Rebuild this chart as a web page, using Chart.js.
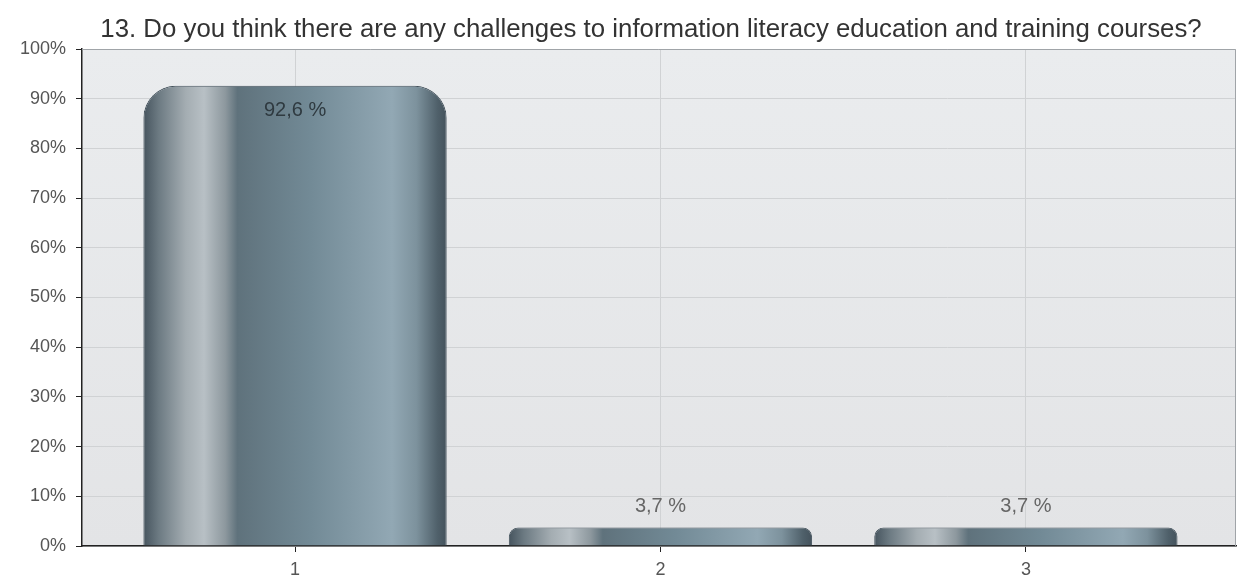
<!DOCTYPE html>
<html>
<head>
<meta charset="utf-8">
<script src="https://cdn.jsdelivr.net/npm/chart.js@4/dist/chart.umd.min.js"></script>
<style>
html,body{margin:0;padding:0;background:#fff;}
#wrap{width:1240px;height:580px;position:relative;}
</style>
</head>
<body>
<div id="wrap"><canvas id="c" width="1240" height="580"></canvas></div>
<script>
const titleText = "13. Do you think there are any challenges to information literacy education and training courses?";
const categories = ["1", "2", "3"];
const values = [92.6, 3.7, 3.7];
const yTicks = [0, 10, 20, 30, 40, 50, 60, 70, 80, 90, 100];

const points = categories.map((c, i) => ({ x: i + 1, y: values[i] }));
const BAR_PCT = 0.83;
const FONT = '"Liberation Sans", Arial, sans-serif';

function barGradient(ctx) {
  const chart = ctx.chart;
  const xs = chart.scales && chart.scales.x;
  if (!xs || ctx.dataIndex === undefined) return '#6f8590';
  const cx = xs.getPixelForValue(ctx.dataIndex + 1);
  const w = (xs.getPixelForValue(2) - xs.getPixelForValue(1)) * BAR_PCT;
  const x0 = cx - w / 2, x1 = cx + w / 2;
  if (!isFinite(x0) || !isFinite(x1)) return '#6f8590';
  const g = chart.ctx.createLinearGradient(x0, 0, x1, 0);
  g.addColorStop(0.00, '#46545e');
  g.addColorStop(0.05, '#6c7a82');
  g.addColorStop(0.14, '#a4adb2');
  g.addColorStop(0.20, '#b8c0c5');
  g.addColorStop(0.27, '#8d989e');
  g.addColorStop(0.31, '#5f727c');
  g.addColorStop(0.55, '#728a96');
  g.addColorStop(0.82, '#92a8b4');
  g.addColorStop(0.90, '#7d929d');
  g.addColorStop(0.97, '#4f606a');
  g.addColorStop(1.00, '#44525c');
  return g;
}

const bgPlugin = {
  id: 'plotBg',
  beforeDraw(chart) {
    const { ctx, chartArea: a } = chart;
    const g = ctx.createLinearGradient(0, a.top, 0, a.bottom);
    g.addColorStop(0, '#eaecee');
    g.addColorStop(1, '#e3e4e6');
    ctx.save();
    ctx.fillStyle = g;
    ctx.fillRect(a.left, a.top, a.right - a.left, a.bottom - a.top);
    ctx.restore();
  },
  afterDraw(chart) {
    const { ctx, chartArea: a } = chart;
    ctx.save();
    ctx.strokeStyle = '#a0a4a8';
    ctx.lineWidth = 1;
    ctx.beginPath();
    ctx.moveTo(a.left, a.top + 0.5);
    ctx.lineTo(a.right - 0.5, a.top + 0.5);
    ctx.lineTo(a.right - 0.5, a.bottom);
    ctx.stroke();
    // title
    ctx.fillStyle = '#333';
    ctx.font = '25.8px ' + FONT;
    ctx.textAlign = 'center';
    ctx.textBaseline = 'alphabetic';
    ctx.fillText(titleText, 651, 37);
    ctx.restore();
  }
};

const labelPlugin = {
  id: 'valLabels',
  afterDatasetsDraw(chart) {
    const { ctx } = chart;
    const meta = chart.getDatasetMeta(0);
    ctx.save();
    ctx.font = '20px ' + FONT;
    ctx.textAlign = 'center';
    ctx.textBaseline = 'middle';
    meta.data.forEach((el, i) => {
      const v = values[i];
      const txt = v.toFixed(1).replace('.', ',') + ' %';
      if (v > 50) {
        ctx.fillStyle = '#2f3a40';
        ctx.fillText(txt, el.x, el.y + 25);
      } else {
        ctx.fillStyle = '#666';
        ctx.fillText(txt, el.x, el.y - 21);
      }
    });
    ctx.restore();
  }
};

new Chart(document.getElementById('c'), {
  type: 'bar',
  data: {
    datasets: [{
      data: points,
      backgroundColor: barGradient,
      borderColor: '#44525c',
      borderWidth: { top: 1, left: 1, right: 1, bottom: 0 },
      borderSkipped: 'bottom',
      borderRadius: { topLeft: 32, topRight: 32, bottomLeft: 0, bottomRight: 0 },
      barPercentage: BAR_PCT,
      categoryPercentage: 1.0
    }]
  },
  options: {
    responsive: false,
    animation: false,
    devicePixelRatio: 1,
    layout: { padding: { left: 0, right: 4, top: 49, bottom: 0 } },
    plugins: {
      legend: { display: false },
      tooltip: { enabled: false },
      title: { display: false }
    },
    scales: {
      x: {
        type: 'linear',
        offset: false,
        min: 0.417,
        max: 3.575,
        afterBuildTicks(s) { s.ticks = categories.map((c, i) => ({ value: i + 1 })); },
        afterFit(s) { s.height = 34; },
        ticks: {
          callback: (v) => categories[v - 1],
          color: '#555',
          font: { family: FONT, size: 18 },
          padding: 7,
          maxRotation: 0,
          autoSkip: false
        },
        grid: { color: '#d0d2d4', lineWidth: 1, drawTicks: true, tickLength: 6, tickColor: '#222', offset: false },
        border: { display: true, color: '#222', width: 1.5 }
      },
      y: {
        min: 0,
        max: 100,
        afterBuildTicks(s) { s.ticks = yTicks.map(v => ({ value: v })); },
        afterFit(s) { s.width = 82; },
        ticks: {
          callback: (v) => v + '%',
          color: '#555',
          font: { family: FONT, size: 18 },
          padding: 10
        },
        grid: { color: '#d0d2d4', lineWidth: 1, drawTicks: true, tickLength: 6, tickColor: '#222' },
        border: { display: true, color: '#222', width: 1.5 }
      }
    }
  },
  plugins: [bgPlugin, labelPlugin]
});
</script>
</body>
</html>
